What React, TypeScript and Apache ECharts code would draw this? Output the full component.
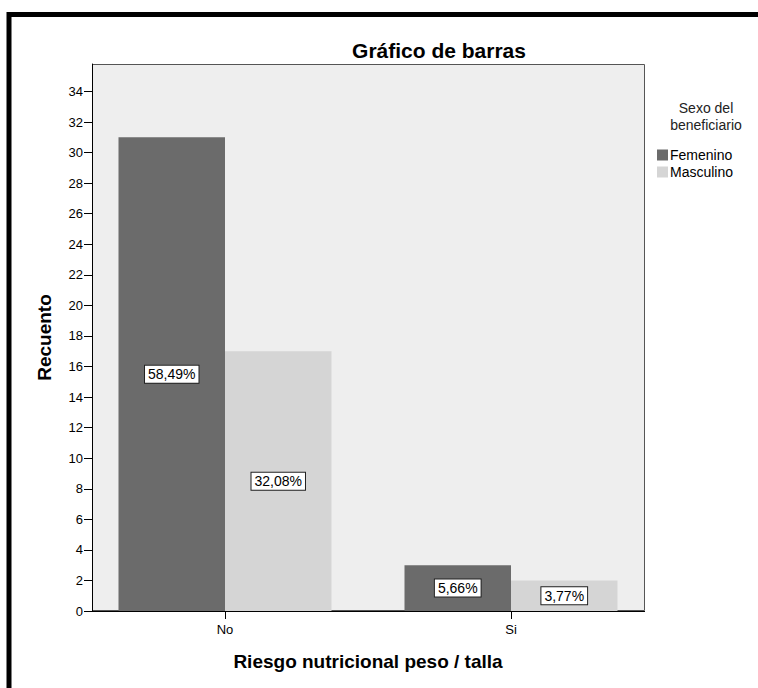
import React, { useEffect, useRef } from "react";
import * as echarts from "echarts";

const categories = ["No", "Si"];
const femenino = [31, 3];
const masculino = [17, 2];
const yTicks = { min: 0, max: 35.8, interval: 2 };
const legendTitle = "Sexo del\nbeneficiario";

const FONT = "'Liberation Sans', Arial, sans-serif";

export default function App() {
  const ref = useRef<HTMLDivElement>(null);
  useEffect(() => {
    if (!ref.current) return;
    const chart = echarts.init(ref.current, undefined, { renderer: "svg" });
    const total = [...femenino, ...masculino].reduce((a, b) => a + b, 0);
    const fmt = (p: any) =>
      ((p.value / total) * 100).toFixed(2).replace(".", ",") + "%";
    const label = {
      show: true,
      position: "inside",
      formatter: fmt,
      color: "#000",
      fontFamily: FONT,
      fontSize: 14,
      backgroundColor: "#fff",
      borderColor: "#222",
      borderWidth: 1,
      padding: [2, 3, 1, 3],
    };
    chart.setOption({
      animation: false,
      backgroundColor: "#fff",
      title: {
        text: "Gráfico de barras",
        left: 434,
        top: 35,
        textAlign: "center",
        textStyle: { fontFamily: FONT, fontSize: 21, fontWeight: "bold", color: "#000" },
      },
      grid: { left: 82, right: 104, top: 64, bottom: 77, containLabel: false },
      legend: {
        orient: "vertical",
        left: 657,
        top: 148,
        padding: 0,
        itemWidth: 11,
        itemHeight: 11,
        itemGap: 3,
        icon: "rect",
        textStyle: { fontFamily: FONT, fontSize: 14, color: "#000", padding: [0, 0, 0, -3] },
        data: ["Femenino", "Masculino"],
      },
      graphic: [
        {
          type: "rect",
          shape: { x: 9, y: 14.5, width: 900, height: 900 },
          style: { fill: "none", stroke: "#000", lineWidth: 5 },
          z: 100,
          silent: true,
        },
        {
          type: "rect",
          shape: { x: 92.5, y: 64.5, width: 552, height: 546 },
          style: { fill: "#eeeeee", stroke: "#555", lineWidth: 1 },
          z: -10,
          silent: true,
        },
        {
          type: "line",
          shape: { x1: 92, y1: 611.5, x2: 645, y2: 611.5 },
          style: { stroke: "#000", lineWidth: 1 },
          z: 50,
          silent: true,
        },
        {
          type: "text",
          x: 706,
          y: 99,
          style: {
            text: legendTitle,
            fontFamily: FONT,
            fontSize: 14,
            fill: "#222",
            align: "center",
            verticalAlign: "top",
            lineHeight: 17,
          },
          silent: true,
        },
      ],
      xAxis: {
        type: "category",
        data: categories,
        name: "Riesgo nutricional peso / talla",
        nameLocation: "middle",
        nameGap: 41,
        nameTextStyle: { fontFamily: FONT, fontSize: 19, fontWeight: "bold", color: "#000" },
        axisLine: { show: false },
        axisTick: { show: true, alignWithLabel: true, length: 8, lineStyle: { color: "#000" } },
        axisLabel: { fontFamily: FONT, fontSize: 13, color: "#000", margin: 12 },
        splitLine: { show: false },
      },
      yAxis: {
        type: "value",
        min: yTicks.min,
        max: yTicks.max,
        interval: yTicks.interval,
        offset: -10,
        name: "Recuento",
        nameLocation: "middle",
        nameGap: 38,
        nameTextStyle: { fontFamily: FONT, fontSize: 19, fontWeight: "bold", color: "#000" },
        axisLine: { show: true, lineStyle: { color: "#000" } },
        axisTick: { show: true, length: 8, lineStyle: { color: "#000" } },
        axisLabel: { fontFamily: FONT, fontSize: 13, color: "#000", margin: 9, showMaxLabel: false },
        splitLine: { show: false },
      },
      series: [
        {
          name: "Femenino",
          type: "bar",
          data: femenino,
          barWidth: 106.5,
          barGap: "0%",
          itemStyle: { color: "#6b6b6b" },
          label,
        },
        {
          name: "Masculino",
          type: "bar",
          data: masculino,
          barWidth: 106.5,
          barGap: "0%",
          itemStyle: { color: "#d5d5d5" },
          label,
        },
      ],
    });
    return () => chart.dispose();
  }, []);
  return (
    <div
      ref={ref}
      style={{ position: "fixed", left: 0, top: 0, width: 758, height: 688, background: "#fff" }}
    />
  );
}
